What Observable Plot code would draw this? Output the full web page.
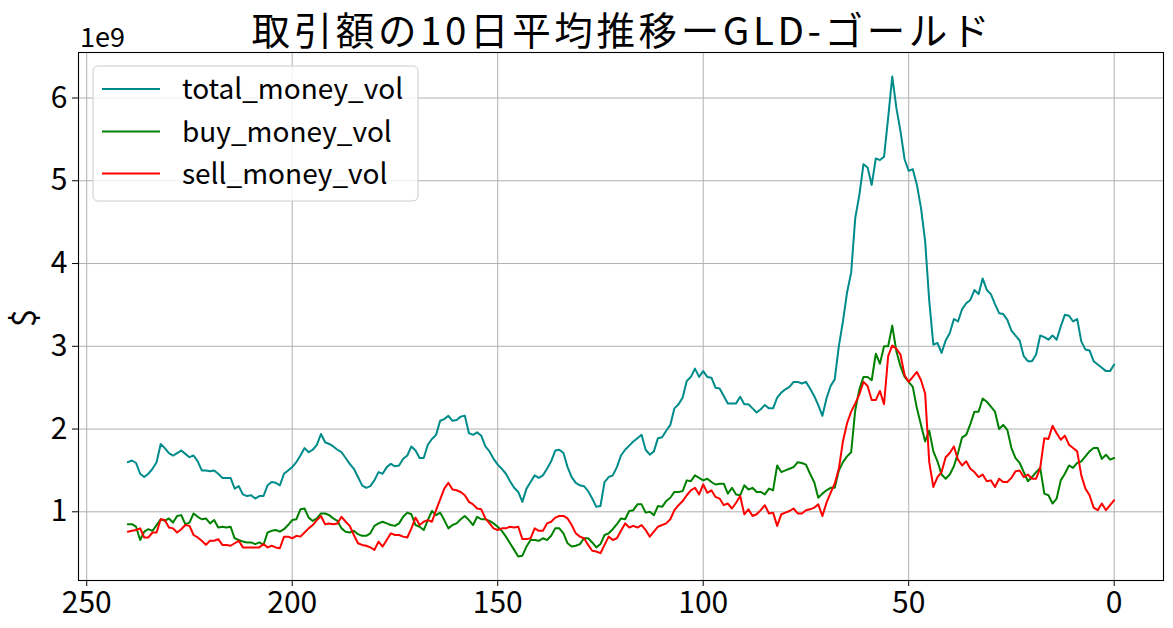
<!DOCTYPE html>
<html><head><meta charset="utf-8">
<script src="https://cdn.jsdelivr.net/npm/d3@7"></script>
<script src="https://cdn.jsdelivr.net/npm/@observablehq/plot@0.6"></script>
<style>
body{margin:0;background:#fff;}
#chart{position:relative;width:1173px;height:628px;}
</style></head><body><div id="chart"></div>
<script>
// x index: days before latest (240 ... 0)
const days = d3.range(240, -1, -1);

// values in units of 1e9 dollars, listed from day 240 down to day 0
const totalMoneyVol = [
1.60,1.62,1.59,1.46,1.42,1.46,1.52,1.60,1.82,1.77,
1.71,1.68,1.71,1.74,1.70,1.66,1.68,1.61,1.50,1.50,
1.49,1.50,1.46,1.41,1.41,1.41,1.28,1.31,1.21,1.19,
1.20,1.16,1.19,1.19,1.32,1.36,1.35,1.32,1.46,1.50,
1.54,1.60,1.68,1.77,1.72,1.75,1.81,1.94,1.84,1.82,
1.79,1.75,1.72,1.65,1.58,1.52,1.42,1.32,1.29,1.31,
1.38,1.48,1.46,1.54,1.58,1.55,1.56,1.64,1.68,1.79,
1.74,1.65,1.65,1.81,1.88,1.93,2.10,2.12,2.16,2.10,
2.11,2.15,2.16,1.95,1.93,1.96,1.92,1.79,1.73,1.64,
1.57,1.52,1.46,1.37,1.29,1.24,1.12,1.28,1.36,1.44,
1.41,1.44,1.52,1.61,1.74,1.75,1.71,1.54,1.42,1.35,
1.32,1.31,1.25,1.16,1.06,1.07,1.36,1.42,1.44,1.54,
1.68,1.75,1.80,1.85,1.89,1.93,1.75,1.69,1.73,1.89,
1.90,1.98,2.05,2.25,2.30,2.38,2.58,2.63,2.73,2.63,
2.70,2.63,2.62,2.50,2.49,2.40,2.31,2.31,2.31,2.39,
2.30,2.30,2.25,2.20,2.24,2.29,2.25,2.25,2.38,2.44,
2.48,2.51,2.57,2.57,2.55,2.57,2.49,2.40,2.29,2.16,
2.37,2.52,2.60,3.00,3.30,3.65,3.89,4.55,4.83,5.20,
5.16,4.95,5.27,5.25,5.29,5.76,6.26,5.88,5.60,5.26,
5.12,5.14,4.95,4.67,4.27,3.55,3.02,3.04,2.92,3.07,
3.16,3.33,3.30,3.45,3.52,3.56,3.68,3.63,3.82,3.68,
3.63,3.51,3.40,3.39,3.32,3.19,3.13,3.07,2.88,2.82,
2.82,2.90,3.13,3.11,3.08,3.13,3.08,3.24,3.38,3.37,
3.30,3.33,3.06,2.96,2.95,2.82,2.78,2.74,2.70,2.70,
2.78];

const buyMoneyVol = [
0.85,0.85,0.82,0.66,0.76,0.79,0.77,0.84,0.91,0.89,
0.92,0.87,0.95,0.96,0.85,0.87,0.98,0.94,0.91,0.92,
0.86,0.90,0.81,0.82,0.81,0.82,0.68,0.66,0.64,0.63,
0.63,0.61,0.63,0.60,0.75,0.77,0.78,0.76,0.79,0.84,
0.90,0.91,1.03,1.04,0.93,0.89,0.92,0.98,0.98,0.96,
0.92,0.89,0.80,0.76,0.75,0.77,0.73,0.71,0.71,0.74,
0.83,0.86,0.88,0.86,0.84,0.83,0.86,0.94,0.99,0.97,
0.84,0.82,0.78,0.90,1.01,0.96,0.99,0.90,0.80,0.84,
0.86,0.91,0.95,0.90,0.84,0.94,0.91,0.91,0.89,0.86,
0.82,0.77,0.70,0.62,0.54,0.46,0.47,0.58,0.66,0.66,
0.65,0.68,0.66,0.71,0.80,0.80,0.74,0.62,0.58,0.59,
0.61,0.68,0.68,0.63,0.57,0.61,0.72,0.74,0.79,0.85,
0.92,0.91,1.01,1.02,1.09,1.09,0.99,1.00,0.96,1.07,
1.06,1.13,1.17,1.24,1.24,1.25,1.38,1.37,1.44,1.41,
1.38,1.40,1.36,1.33,1.34,1.34,1.22,1.29,1.21,1.20,
1.32,1.27,1.29,1.24,1.24,1.21,1.28,1.26,1.56,1.48,
1.50,1.52,1.54,1.60,1.59,1.57,1.46,1.36,1.17,1.22,
1.26,1.29,1.29,1.50,1.60,1.67,1.72,2.23,2.48,2.63,
2.63,2.59,2.91,2.79,3.00,3.00,3.25,2.94,2.76,2.63,
2.57,2.51,2.25,2.05,1.85,1.98,1.73,1.61,1.45,1.40,
1.45,1.55,1.71,1.90,1.93,2.06,2.21,2.21,2.37,2.33,
2.27,2.21,2.00,2.05,1.99,1.77,1.65,1.59,1.48,1.37,
1.42,1.48,1.53,1.22,1.20,1.10,1.16,1.38,1.46,1.56,
1.53,1.59,1.61,1.67,1.73,1.77,1.77,1.64,1.69,1.63,
1.65];

const sellMoneyVol = [
0.76,0.77,0.78,0.80,0.69,0.69,0.75,0.75,0.91,0.90,
0.81,0.80,0.75,0.79,0.84,0.83,0.72,0.69,0.65,0.60,
0.65,0.65,0.67,0.60,0.60,0.59,0.62,0.65,0.57,0.57,
0.57,0.57,0.57,0.61,0.57,0.59,0.57,0.56,0.70,0.70,
0.68,0.71,0.70,0.75,0.80,0.84,0.90,0.95,0.85,0.86,
0.85,0.86,0.94,0.88,0.83,0.72,0.62,0.60,0.59,0.57,
0.54,0.64,0.58,0.66,0.74,0.72,0.72,0.70,0.69,0.80,
0.93,0.84,0.88,0.90,0.88,1.02,1.15,1.28,1.35,1.27,
1.26,1.24,1.20,1.12,1.09,1.04,1.03,0.92,0.86,0.80,
0.78,0.80,0.80,0.82,0.81,0.82,0.67,0.67,0.68,0.80,
0.77,0.77,0.86,0.88,0.93,0.95,0.95,0.92,0.84,0.74,
0.70,0.68,0.60,0.53,0.52,0.50,0.60,0.70,0.66,0.68,
0.77,0.86,0.81,0.83,0.81,0.84,0.78,0.70,0.76,0.82,
0.84,0.86,0.91,1.02,1.08,1.13,1.20,1.26,1.29,1.21,
1.33,1.23,1.26,1.18,1.16,1.08,1.10,1.04,1.11,1.19,
0.97,1.03,0.95,0.97,1.02,1.08,0.98,0.99,0.83,0.97,
0.99,1.01,1.04,0.98,0.98,1.02,1.03,1.05,1.09,0.95,
1.11,1.23,1.34,1.52,1.85,2.07,2.21,2.31,2.42,2.57,
2.52,2.35,2.35,2.46,2.30,2.88,3.01,2.97,2.90,2.65,
2.57,2.63,2.69,2.59,2.43,1.60,1.30,1.42,1.48,1.66,
1.71,1.79,1.63,1.56,1.61,1.52,1.48,1.42,1.45,1.37,
1.38,1.30,1.40,1.36,1.36,1.41,1.49,1.50,1.42,1.45,
1.40,1.40,1.53,1.89,1.88,2.04,1.95,1.87,1.92,1.81,
1.77,1.73,1.44,1.28,1.20,1.05,1.02,1.10,1.02,1.08,
1.14];

const seriesNames = ["total_money_vol", "buy_money_vol", "sell_money_vol"];
const seriesColors = ["#008b8b", "#008000", "#ff0000"];
const xTicks = [250, 200, 150, 100, 50, 0];
const yTicks = [1, 2, 3, 4, 5, 6];
const titleText = "取引額の10日平均推移ーGLD-ゴールド";
const yLabel = "$";
const offsetLabel = "1e9";

const rows = [];
[totalMoneyVol, buyMoneyVol, sellMoneyVol].forEach((vals, i) =>
  vals.forEach((v, j) => rows.push({day: days[j], value: v, series: seriesNames[i]})));

const allVals = rows.map(d => d.value);
const lo = d3.min(allVals), hi = d3.max(allVals), pad = (hi - lo) * 0.05;
const xPad = (d3.max(days) - d3.min(days)) * 0.05;
const font = "'Noto Sans CJK JP', 'Noto Sans', sans-serif";

const W = 1173, H = 628, mL = 78, mR = 10, mT = 52, mB = 48;

const chart = Plot.plot({
  width: W, height: H,
  marginLeft: mL, marginRight: mR, marginTop: mT, marginBottom: mB,
  style: {fontFamily: font, fontSize: "30px", color: "black", background: "white", overflow: "visible"},
  x: {domain: [d3.max(days) + xPad, d3.min(days) - xPad]},
  y: {domain: [lo - pad, hi + pad]},
  color: {domain: seriesNames, range: seriesColors},
  marks: [
    Plot.gridX(xTicks, {stroke: "#b0b0b0", strokeOpacity: 1, strokeWidth: 1}),
    Plot.gridY(yTicks, {stroke: "#b0b0b0", strokeOpacity: 1, strokeWidth: 1}),
    Plot.lineY(rows, {x: "day", y: "value", z: "series", stroke: "series", strokeWidth: 2}),
    Plot.frame({stroke: "black", strokeWidth: 1.1}),
    Plot.axisX(xTicks, {tickSize: 6, tickPadding: 5, fontSize: 30, label: null, tickFormat: d => String(d)}),
    Plot.axisY(yTicks, {tickSize: 6, tickPadding: 5, fontSize: 30, label: null, tickFormat: d => String(d)})
  ]
});

document.getElementById("chart").appendChild(chart);

const svg = d3.select(chart);
// title
svg.append("text")
  .attr("x", (mL + W - mR) / 2).attr("y", 45)
  .attr("text-anchor", "middle")
  .attr("textLength", 738).attr("lengthAdjust", "spacing")
  .style("font-family", font).style("font-size", "38.5px").attr("fill", "black")
  .text(titleText);
// offset text
svg.append("text")
  .attr("x", 80).attr("y", 47)
  .attr("text-anchor", "start")
  .style("font-family", font).style("font-size", "27px").attr("fill", "black")
  .text(offsetLabel);
// y label
svg.append("text")
  .attr("transform", "translate(36,318) rotate(-90)")
  .attr("text-anchor", "middle")
  .style("font-family", font).style("font-size", "33px").attr("fill", "black")
  .text(yLabel);

// legend
const lg = svg.append("g");
lg.append("rect")
  .attr("x", 93).attr("y", 66).attr("width", 325).attr("height", 135)
  .attr("rx", 5).attr("fill", "white").attr("fill-opacity", 0.8)
  .attr("stroke", "#cccccc").attr("stroke-width", 1);
const rowY = [89, 131.5, 173.5];
seriesNames.forEach((name, i) => {
  lg.append("line")
    .attr("x1", 102).attr("x2", 160).attr("y1", rowY[i]).attr("y2", rowY[i])
    .attr("stroke", seriesColors[i]).attr("stroke-width", 2);
  lg.append("text")
    .attr("x", 182).attr("y", rowY[i]).attr("dy", "0.36em")
    .attr("text-anchor", "start")
    .style("font-family", font).style("font-size", "28px").attr("fill", "black")
    .text(name);
});
</script></body></html>
